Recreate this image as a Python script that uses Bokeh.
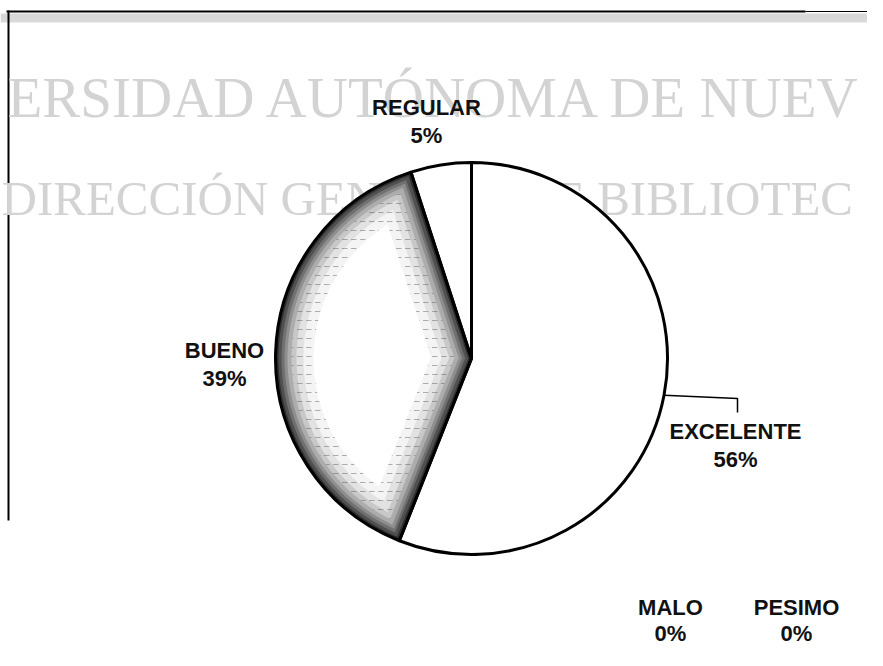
import numpy as np
from bokeh.plotting import figure
from bokeh.models import Range1d
from bokeh.core.properties import value
from bokeh.embed import file_html
from bokeh.resources import INLINE

# ---- data ----
categories = ["EXCELENTE", "BUENO", "REGULAR", "MALO", "PESIMO"]
percent = [56, 39, 5, 0, 0]
pct_labels = ["56%", "39%", "5%", "0%", "0%"]
watermark_lines = ["ERSIDAD AUTÓNOMA DE NUEV", "DIRECCIÓN GENERAL DE BIBLIOTEC"]

# ---- layout (picture pixel coordinates; y grows downward) ----
W, H = 867, 650
CX, CY, R = 471, 358, 196
label_pos = {  # centre of the name line
    "EXCELENTE": (735, 431),
    "BUENO": (224, 350),
    "REGULAR": (426, 107),
    "MALO": (670, 607),
    "PESIMO": (796, 607),
}
LINE_GAP = 28
LINE_GAP_SMALL = 26

def Y(py):
    return -py

p = figure(width=W, height=H, output_backend="svg", toolbar_location=None,
           x_range=Range1d(0, W), y_range=Range1d(-H, 0),
           min_border=0, background_fill_color="white", border_fill_color="white")
p.axis.visible = False
p.grid.visible = False
p.outline_line_color = None

# ---- scan frame ----
p.quad(left=0, right=W, top=Y(13), bottom=Y(22), fill_color="#d9d9d9", line_color=None)
p.line([6, 805], [Y(11), Y(11)], line_color="black", line_width=2)
p.line([805, W], [Y(11), Y(11)], line_color="black", line_width=1)
p.line([8, 8], [Y(10), Y(520)], line_color="black", line_width=2)

# ---- watermark ----
p.text(x=[7], y=[Y(97)], text=[watermark_lines[0]], text_font=value("Liberation Serif"),
       text_font_size="57px", text_color="#d3d3d3", text_baseline="alphabetic", text_align="left")
p.text(x=[1], y=[Y(198)], text=[watermark_lines[1]], text_font=value("Liberation Serif"),
       text_font_size="49px", text_color="#d3d3d3", text_baseline="alphabetic", text_align="left")

# ---- pie ----
frac = np.array(percent, dtype=float) / sum(percent)
ends_deg = 90 - 360 * np.cumsum(frac)
starts_deg = np.concatenate([[90], ends_deg[:-1]])
starts = np.radians(starts_deg)
ends = np.radians(ends_deg)

fills = ["white", "#2e2e2e", "white", "white", "white"]
for i, c in enumerate(categories):
    if percent[i] == 0:
        continue
    p.wedge(x=CX, y=Y(CY), radius=R, start_angle=starts[i], end_angle=ends[i],
            direction="clock", fill_color=fills[i], line_color=None)

# textured (lighter inside) BUENO slice: inset layers
ib = categories.index("BUENO")
a_hi, a_lo = starts[ib], ends[ib]   # clockwise from a_hi down to a_lo
span = a_hi - a_lo
bis = (a_hi + a_lo) / 2
layers = [(3, "#505050", None), (6, "#707070", None), (9, "#8e8e8e", None),
          (12, "#acacac", None), (16, "#c8c8c8", "horizontal_dash"),
          (21, "#e2e2e2", "horizontal_dash"), (28, "#f4f4f4", "horizontal_dash"),
          (38, "white", None)]
for d, col, hatch in layers:
    ax = CX + np.cos(bis) * d / np.sin(span / 2)
    ay = Y(CY) + np.sin(bis) * d / np.sin(span / 2)
    th = np.linspace(a_hi, a_lo, 400)
    rr = R - d
    keep = (rr * np.sin(a_hi - th) >= d) & (rr * np.sin(th - a_lo) >= d)
    th = th[keep]
    xs = [ax] + list(CX + rr * np.cos(th))
    ys = [ay] + list(Y(CY) + rr * np.sin(th))
    kw = {}
    if hatch:
        kw = dict(hatch_pattern=hatch, hatch_color="#555555", hatch_alpha=0.45, hatch_scale=9)
    p.patch(xs, ys, fill_color=col, line_color=None, **kw)

# outlines
for i, c in enumerate(categories):
    if percent[i] == 0:
        continue
    p.wedge(x=CX, y=Y(CY), radius=R, start_angle=starts[i], end_angle=ends[i],
            direction="clock", fill_color=None, line_color="black", line_width=3)

# leader line for EXCELENTE (from slice mid-angle)
ie = categories.index("EXCELENTE")
mid = (starts[ie] + ends[ie]) / 2
sx, sy = CX + R * np.cos(mid), Y(CY) + R * np.sin(mid)
lx, ly = label_pos["EXCELENTE"]
p.line([sx, lx + 2, lx + 2], [sy, Y(ly - 33), Y(ly - 19)], line_color="black", line_width=1.5)

# ---- labels ----
for i, c in enumerate(categories):
    x0, y0 = label_pos[c]
    gap = LINE_GAP if percent[i] > 0 else LINE_GAP_SMALL
    p.text(x=[x0], y=[Y(y0)], text=[c], text_font=value("Liberation Sans"),
           text_font_size="22px", text_font_style="bold", text_color="#111111",
           text_align="center", text_baseline="middle")
    p.text(x=[x0], y=[Y(y0 + gap)], text=[pct_labels[i]], text_font=value("Liberation Sans"),
           text_font_size="22px", text_font_style="bold", text_color="#111111",
           text_align="center", text_baseline="middle")

open("out.html", "w").write(file_html(p, INLINE))
